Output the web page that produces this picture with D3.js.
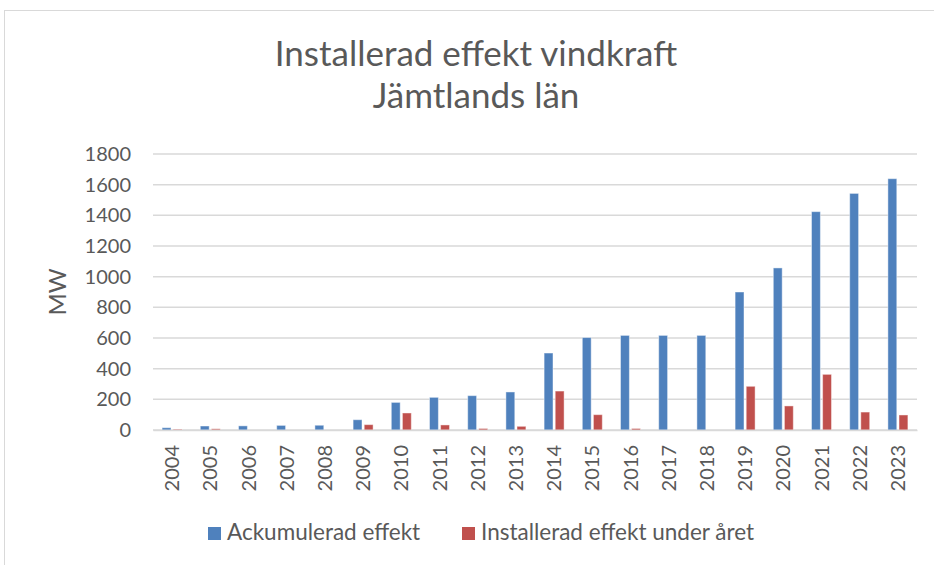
<!DOCTYPE html>
<html>
<head>
<meta charset="utf-8">
<script src="https://cdn.jsdelivr.net/npm/d3@7"></script>
<style>
  body { margin: 0; background: #fff; }
  svg { display: block; font-family: Lato, "Open Sans", sans-serif; }
</style>
</head>
<body>
<svg id="chart" width="934" height="565"></svg>
<script>
// data
var years = ["2004", "2005", "2006", "2007", "2008", "2009", "2010", "2011", "2012", "2013",
             "2014", "2015", "2016", "2017", "2018", "2019", "2020", "2021", "2022", "2023"];
var ackumulerad = [15, 26, 27, 30, 31, 67, 180, 213, 224, 248,
                   502, 603, 617, 617, 617, 900, 1057, 1424, 1543, 1639];
var underAret = [5, 8, 0, 0, 0, 35, 111, 33, 10, 24,
                 254, 100, 10, 0, 0, 285, 157, 363, 117, 98];
var yTicks = [0, 200, 400, 600, 800, 1000, 1200, 1400, 1600, 1800];
var seriesNames = ["Ackumulerad effekt", "Installerad effekt under året"];
var colors = ["#4f81bd", "#c0504d"];
var titleLines = ["Installerad effekt vindkraft", "Jämtlands län"];

var svg = d3.select("#chart"),
    margin = {top: 154, right: 17, bottom: 135, left: 153},
    width = 934 - margin.left - margin.right,
    height = 565 - margin.top - margin.bottom;

var textColor = "#595959";

// outer chart border
svg.append("rect")
    .attr("x", 4.5).attr("y", 10.5)
    .attr("width", 940).attr("height", 600)
    .attr("fill", "none")
    .attr("stroke", "#d9d9d9")
    .attr("stroke-width", 1);

var g = svg.append("g").attr("transform", "translate(" + margin.left + "," + margin.top + ")");

var x0 = d3.scaleBand().domain(years).range([0, width]).padding(0);
var x1 = d3.scaleBand().domain(d3.range(seriesNames.length))
    .range([x0.bandwidth() / 2 - 10, x0.bandwidth() / 2 + 10])
    .paddingInner(0.2);
var y = d3.scaleLinear().domain([0, 1800]).range([height, 0]);

// grid lines
g.append("g")
    .attr("class", "grid")
    .selectAll("line")
    .data(yTicks)
    .enter().append("line")
    .attr("x1", 0).attr("x2", width)
    .attr("y1", function (d) { return y(d); })
    .attr("y2", function (d) { return y(d); })
    .attr("stroke", "#d9d9d9")
    .attr("stroke-width", 1.5);

// y axis
var yAxis = g.append("g")
    .call(d3.axisLeft(y).tickValues(yTicks).tickFormat(d3.format("d")).tickSize(0).tickPadding(22));
yAxis.select(".domain").remove();
yAxis.selectAll("text")
    .attr("fill", textColor)
    .style("font-size", "20px")
    .style("font-family", "Lato, sans-serif");

// bars
var series = [ackumulerad, underAret];
series.forEach(function (vals, si) {
    g.append("g")
        .selectAll("rect")
        .data(vals)
        .enter().append("rect")
        .attr("x", function (d, i) { return x0(years[i]) + x1(si); })
        .attr("width", x1.bandwidth())
        .attr("y", function (d) { return y(d); })
        .attr("height", function (d) { return height - y(d); })
        .attr("fill", colors[si])
        .attr("stroke", "rgba(255,255,255,0.45)")
        .attr("stroke-width", 1);
});

// x axis
var xAxis = g.append("g")
    .attr("transform", "translate(0," + height + ")")
    .call(d3.axisBottom(x0).tickSize(0).tickPadding(0));
xAxis.select(".domain").attr("stroke", "#d9d9d9").attr("stroke-width", 1.5);
xAxis.selectAll("text")
    .attr("fill", textColor)
    .style("font-size", "20px")
    .style("font-family", "Lato, sans-serif")
    .attr("text-anchor", "end")
    .attr("transform", "rotate(-90)")
    .attr("x", -15)
    .attr("y", 0)
    .attr("dy", "0.35em");

// y axis title
svg.append("text")
    .attr("transform", "translate(58,292) rotate(-90)")
    .attr("text-anchor", "middle")
    .attr("dy", "0.35em")
    .attr("fill", textColor)
    .style("font-size", "24px")
    .text("MW");

// chart title
svg.append("g").selectAll("text")
    .data(titleLines)
    .enter().append("text")
    .attr("x", 476)
    .attr("y", function (d, i) { return 66 + i * 42; })
    .attr("text-anchor", "middle")
    .attr("fill", textColor)
    .style("font-size", "35px")
    .text(function (d) { return d; });

// legend
var legendX = [208, 462];
var legend = svg.append("g").selectAll("g")
    .data(seriesNames)
    .enter().append("g")
    .attr("transform", function (d, i) { return "translate(" + legendX[i] + ",527)"; });
legend.append("rect")
    .attr("width", 13).attr("height", 13)
    .attr("fill", function (d, i) { return colors[i]; });
legend.append("text")
    .attr("x", 19)
    .attr("y", 13)
    .attr("fill", textColor)
    .style("font-size", "22.5px")
    .text(function (d) { return d; });
</script>
</body>
</html>
